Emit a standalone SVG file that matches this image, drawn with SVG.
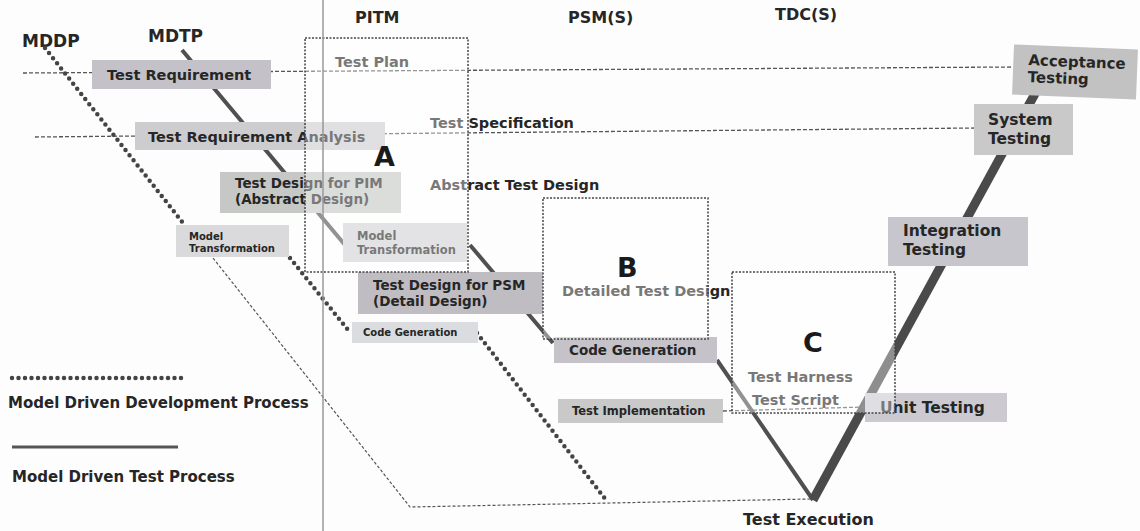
<svg xmlns="http://www.w3.org/2000/svg" width="1140" height="531" viewBox="0 0 1140 531">
<defs>
<style>
text{font-family:"DejaVu Sans","Liberation Sans",sans-serif;font-weight:bold;fill:#262626}
.box{stroke:none}
.dash{fill:none;stroke:#555;stroke-width:1.3;stroke-dasharray:4 2}
.thin{fill:none;stroke:#555;stroke-width:1.2;stroke-dasharray:3 2}
.mdtp{fill:none;stroke:#505050;stroke-width:4}
.mddp{fill:none;stroke:#444;stroke-width:4.5;stroke-linecap:round;stroke-dasharray:0 6.5}
.region{fill:#fff;fill-opacity:0.38;stroke:#444;stroke-width:1.5;stroke-dasharray:2 1.5}
.t17{font-size:17px}
.t16{font-size:16px}
.t15{font-size:15px}
.t145{font-size:14.5px}
.t135{font-size:13.5px}
.big{font-size:27px;fill:#1a1a1a}
</style>
</defs>
<rect width="1140" height="531" fill="#fdfdfd"/>

<g id="headers">
<text class="t17" x="22" y="47">MDDP</text>
<text class="t17" x="148" y="42">MDTP</text>
<text class="t16" x="355" y="23">PITM</text>
<text class="t16" x="568" y="23">PSM(S)</text>
<text class="t16" x="775" y="20">TDC(S)</text>
</g>

<g id="connectors">
<path class="dash" d="M23,73 L1013,67"/>
<path class="dash" d="M35,137 L975,128"/>
<path class="mdtp" d="M182,50 L345,245 M470,245 L553,343 M717,360 L813,500"/>
<path d="M813,500 L1037,90" fill="none" stroke="#4a4a4a" stroke-width="9"/>
<path class="mddp" d="M45,48 L183,223 M290,258 L348,330 M477,333 L606,500"/>
<path class="thin" d="M213,258 L410,507 L810,499"/>
<path class="dash" d="M723,411 L865,407"/>
</g>

<g id="test-requirement">
<rect class="box" x="92" y="60" width="179" height="29" fill="#c4c2c8"/>
<text class="t145" x="107" y="80">Test Requirement</text>
</g>
<g id="test-requirement-analysis">
<rect class="box" x="135" y="122" width="250" height="28" fill="#cdcdd0"/>
<text class="t145" x="148" y="142">Test Requirement Analysis</text>
</g>
<g id="test-design-pim">
<rect class="box" x="220" y="172" width="181" height="41" fill="#c6c8c6"/>
<text class="t135" x="235" y="188">Test Design for PIM</text>
<text class="t135" x="235" y="204">(Abstract Design)</text>
</g>
<g id="model-transformation-mddp">
<rect class="box" x="176" y="225" width="113" height="32" fill="#dadadc"/>
<text font-size="10" x="189" y="240">Model</text>
<text font-size="10" x="189" y="252">Transformation</text>
</g>
<g id="model-transformation-mdtp">
<rect class="box" x="343" y="223" width="124" height="39" fill="#d2d2d5"/>
<text font-size="11.5" x="357" y="240">Model</text>
<text font-size="11.5" x="357" y="254">Transformation</text>
</g>
<g id="test-design-psm">
<rect class="box" x="358" y="272" width="185" height="42" fill="#bfbdc2"/>
<text class="t135" x="373" y="290">Test Design for PSM</text>
<text class="t135" x="373" y="306">(Detail Design)</text>
</g>
<g id="code-generation-mddp">
<rect class="box" x="352" y="322" width="126" height="21" fill="#dadce0"/>
<text font-size="10" x="363" y="336">Code Generation</text>
</g>
<g id="code-generation-mdtp">
<rect class="box" x="554" y="337" width="163" height="26" fill="#c5c3c9"/>
<text class="t135" x="569" y="355">Code Generation</text>
</g>
<g id="test-implementation">
<rect class="box" x="558" y="399" width="165" height="24" fill="#c9c9c9"/>
<text font-size="11.5" x="572" y="415">Test Implementation</text>
</g>
<g id="unit-testing">
<rect class="box" x="865" y="393" width="142" height="29" fill="#cccad0"/>
<text font-size="15.5" x="880" y="413">Unit Testing</text>
</g>
<g id="integration-testing">
<rect class="box" x="888" y="217" width="140" height="49" fill="#c6c6cc"/>
<text font-size="15.5" x="903" y="236">Integration</text>
<text font-size="15.5" x="903" y="255">Testing</text>
</g>
<g id="system-testing">
<rect class="box" x="974" y="104" width="99" height="51" fill="#c9c9c9"/>
<text font-size="15.5" x="988" y="125">System</text>
<text font-size="15.5" x="988" y="144">Testing</text>
</g>
<g id="acceptance-testing" transform="rotate(2.3 1075 72)">
<rect class="box" x="1013" y="47" width="124" height="50" fill="#c2c2c2"/>
<text class="t15" x="1028" y="67">Acceptance</text>
<text class="t15" x="1028" y="84">Testing</text>
</g>

<g id="region-a">
<text class="t145" x="335" y="67">Test Plan</text>
<text class="t145" x="430" y="128">Test Specification</text>
<text class="t145" x="430" y="190">Abstract Test Design</text>
<rect class="region" x="305" y="38" width="163" height="234"/>
<text class="big" x="374" y="166">A</text>
</g>
<g id="region-b">
<text class="t145" x="562" y="296">Detailed Test Design</text>
<rect class="region" x="543" y="198" width="165" height="141"/>
<text class="big" x="617" y="277">B</text>
</g>
<g id="region-c">
<text class="t145" x="748" y="382">Test Harness</text>
<text class="t145" x="752" y="405">Test Script</text>
<rect class="region" x="732" y="272" width="163" height="141"/>
<text class="big" x="803" y="352">C</text>
</g>

<path id="divider" d="M323,0 L323,531" stroke="#999" stroke-width="1.5"/>

<g id="test-execution">
<text class="t16" x="743" y="525">Test Execution</text>
</g>

<g id="legend">
<path class="mddp" d="M12,378 L183,378"/>
<text class="t15" x="8" y="408">Model Driven Development Process</text>
<path d="M12,447 L178,447" stroke="#555" stroke-width="3"/>
<text class="t15" x="12" y="482">Model Driven Test Process</text>
</g>
</svg>
